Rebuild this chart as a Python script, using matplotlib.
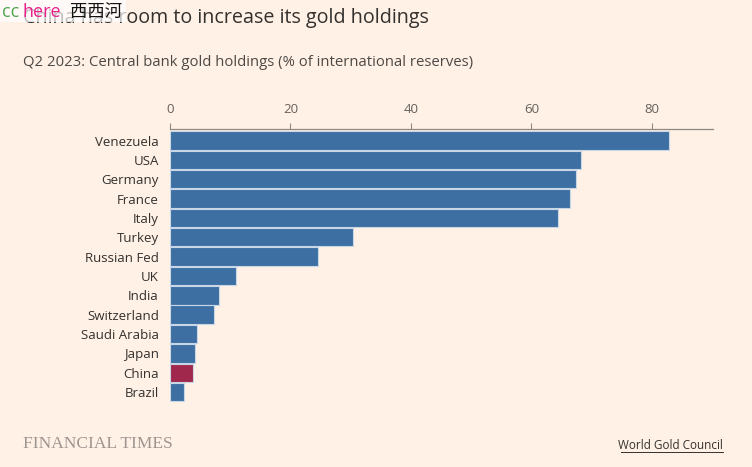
import matplotlib.pyplot as plt

# Data
countries = ['Venezuela', 'USA', 'Germany', 'France', 'Italy', 'Turkey', 'Russian Fed',
             'UK', 'India', 'Switzerland', 'Saudi Arabia', 'Japan', 'China', 'Brazil']
gold_share = [82.9, 68.2, 67.4, 66.4, 64.5, 30.4, 24.6, 11.0, 8.1, 7.3, 4.5, 4.2, 3.8, 2.3]
highlight = 'China'
x_ticks = [0, 20, 40, 60, 80]

bg = '#FFF1E5'
blue = '#3E6FA3'
red = '#A0284C'
text_dark = '#33302E'
text_mid = '#66605C'

plt.rcParams['font.family'] = ['Open Sans', 'Noto Sans CJK SC', 'DejaVu Sans']

fig = plt.figure(figsize=(7.52, 4.67), dpi=100, facecolor=bg)
ax = fig.add_axes([0.226, 0.1377, 0.7216, 0.5861], facecolor=bg)

colors = [red if c == highlight else blue for c in countries]
ax.barh(range(len(countries)), gold_share, height=0.95, color=colors,
        edgecolor='#C9D6E6', linewidth=0.8)

ax.set_xlim(0, 90.1)
ax.set_ylim(13.55, -0.6)
ax.set_yticks(range(len(countries)))
ax.set_yticklabels(countries, fontsize=9.5, color=text_dark)
ax.set_xticks(x_ticks)
ax.xaxis.tick_top()
ax.tick_params(axis='x', length=4.5, color='#8E8782', labelsize=9.5, labelcolor=text_mid, pad=5)
ax.tick_params(axis='y', length=0, pad=8)
for s in ['right', 'bottom', 'left']:
    ax.spines[s].set_visible(False)
ax.spines['top'].set_color('#8E8782')
ax.spines['top'].set_linewidth(0.9)

# Titles
fig.text(0.031, 0.962, 'China has room to increase its gold holdings', fontsize=14.2,
         color=text_dark, va='center')
fig.text(0.031, 0.866, 'Q2 2023: Central bank gold holdings (% of international reserves)',
         fontsize=10.7, color='#4D4845', va='center')

# Overlay tag (sits on top of the title, as in the reference)
fig.patches.append(plt.Rectangle((0, 0.953), 0.167, 0.047, transform=fig.transFigure,
                                 facecolor='white', alpha=0.7, edgecolor='none', zorder=4))
fig.text(0.002, 0.975, 'cc', fontsize=13, color='#4CA64C', va='center', zorder=5)
fig.text(0.030, 0.975, 'here', fontsize=13, color='#E8208C', va='center', zorder=5)
fig.text(0.093, 0.975, '西西河', fontsize=12.5, color='#111111', va='center', zorder=5,
         family=['Noto Sans CJK SC', 'DejaVu Sans'])

# Footer
fig.text(0.031, 0.049, 'FINANCIAL TIMES', fontsize=12.5, color='#9E9591', va='center',
         family=['Liberation Serif', 'DejaVu Serif'])
fig.text(0.961, 0.046, 'World Gold Council', fontsize=8.5, color=text_dark,
         va='center', ha='right')
fig.add_artist(plt.Line2D([0.826, 0.961], [0.032, 0.032], color=text_dark, linewidth=0.7))

fig.savefig('out.png', dpi=100, facecolor=bg)
